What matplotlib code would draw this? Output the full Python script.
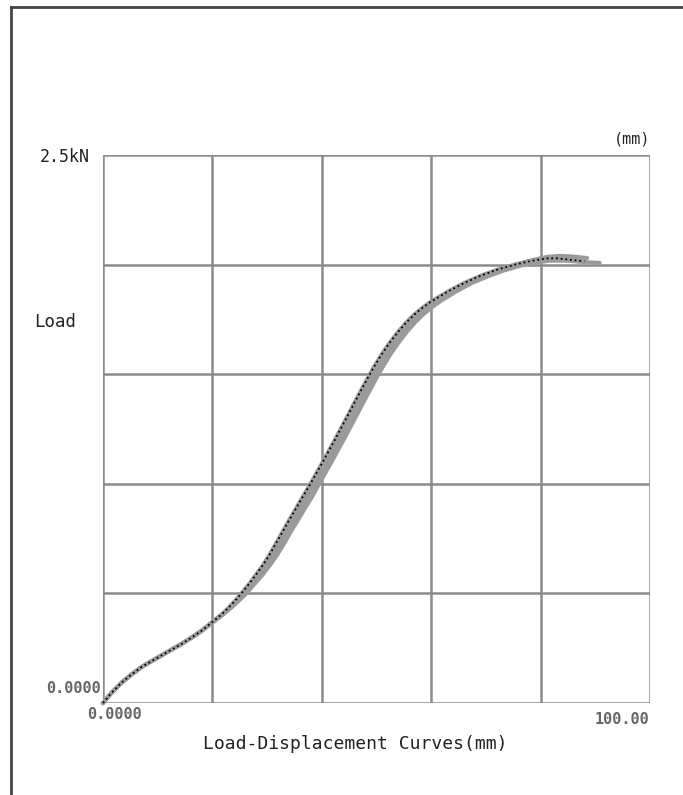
"""
Load-displacement curves, re-drawn from a scanned test report figure.
Several specimens overlap; one is drawn dotted black, the rest grey.
"""

import matplotlib
matplotlib.use("Agg")
import matplotlib.pyplot as plt
from matplotlib.lines import Line2D

# displacement (mm) / load (kN)
DISP_1 = [0, 1.5, 3.4, 5.2, 7.1, 9.5, 12.0, 14.2, 16.3, 18.2,
          20.0, 21.6, 23.0, 24.2, 25.2, 26.6, 27.9, 29.2, 30.4, 31.6,
          32.8, 34.0, 35.3, 36.5, 37.7, 40.0, 42.2, 44.4, 46.5, 48.6,
          49.7, 50.8, 52.3, 53.9, 55.4, 56.9, 58.4, 60.0, 63.1, 66.1,
          69.2, 72.2, 75.3, 78.3, 81.0, 83.0, 85.5, 88.0]
LOAD_1 = [0, 0.045, 0.093, 0.130, 0.165, 0.200, 0.236, 0.267, 0.300, 0.333,
          0.370, 0.402, 0.436, 0.468, 0.497, 0.540, 0.583, 0.628, 0.674, 0.727,
          0.780, 0.833, 0.888, 0.940, 0.990, 1.092, 1.192, 1.295, 1.395, 1.492,
          1.540, 1.585, 1.640, 1.692, 1.735, 1.772, 1.803, 1.832, 1.878, 1.917,
          1.951, 1.978, 2.000, 2.017, 2.028, 2.029, 2.022, 2.015]

DISP_2 = [0, 1.5, 3.4, 5.2, 7.1, 9.5, 12.0, 14.2, 16.3, 18.2,
          20.0, 21.7, 23.2, 24.5, 25.6, 27.1, 28.5, 29.9, 31.1, 32.4,
          33.6, 34.9, 36.2, 37.4, 38.6, 40.9, 43.1, 45.3, 47.4, 49.5,
          50.6, 51.7, 53.2, 54.8, 56.3, 57.8, 59.3, 60.9, 63.9, 66.9,
          69.9, 72.8, 75.8, 78.7, 81.3, 83.5, 86.0, 88.5]
LOAD_2 = [0, 0.045, 0.093, 0.130, 0.165, 0.200, 0.236, 0.267, 0.300, 0.333,
          0.370, 0.402, 0.436, 0.468, 0.497, 0.540, 0.583, 0.628, 0.674, 0.727,
          0.780, 0.833, 0.888, 0.940, 0.990, 1.092, 1.192, 1.295, 1.395, 1.492,
          1.540, 1.585, 1.640, 1.692, 1.735, 1.772, 1.803, 1.832, 1.878, 1.917,
          1.951, 1.978, 2.002, 2.022, 2.036, 2.040, 2.037, 2.030]

DISP_3 = [0, 1.5, 3.4, 5.2, 7.1, 9.5, 12.0, 14.2, 16.3, 18.3,
          20.2, 21.9, 23.5, 24.9, 26.1, 27.6, 29.1, 30.5, 31.8, 33.1,
          34.3, 35.6, 36.9, 38.2, 39.3, 41.6, 43.8, 46.0, 48.1, 50.2,
          51.3, 52.4, 53.9, 55.5, 57.0, 58.5, 60.0, 61.6, 64.6, 67.5,
          70.5, 73.4, 76.3, 79.2, 81.8, 84.5, 87.7, 90.8]
LOAD_3 = [0, 0.045, 0.093, 0.130, 0.165, 0.200, 0.236, 0.267, 0.300, 0.333,
          0.370, 0.402, 0.436, 0.468, 0.497, 0.540, 0.583, 0.628, 0.674, 0.727,
          0.780, 0.833, 0.888, 0.940, 0.990, 1.092, 1.192, 1.295, 1.395, 1.492,
          1.540, 1.585, 1.640, 1.692, 1.735, 1.772, 1.803, 1.832, 1.878, 1.917,
          1.948, 1.974, 1.995, 2.010, 2.018, 2.018, 2.012, 2.008]

DISP_4 = [0, 1.5, 3.4, 5.2, 7.1, 9.5, 12.0, 14.2, 16.3, 18.2,
          20.1, 21.7, 23.2, 24.4, 25.5, 26.9, 28.2, 29.6, 30.8, 32.0,
          33.2, 34.4, 35.7, 36.9, 38.1, 40.4, 42.6, 44.8, 46.9, 49.0,
          50.1, 51.2, 52.7, 54.3, 55.8, 57.3, 58.8, 60.4, 63.5, 66.5,
          69.6, 72.5, 75.6, 78.6, 81.2, 83.3, 85.4, 87.0]
LOAD_4 = [0, 0.045, 0.093, 0.130, 0.165, 0.200, 0.236, 0.267, 0.300, 0.333,
          0.370, 0.402, 0.436, 0.468, 0.497, 0.540, 0.583, 0.628, 0.674, 0.727,
          0.780, 0.833, 0.888, 0.940, 0.990, 1.092, 1.192, 1.295, 1.395, 1.492,
          1.540, 1.585, 1.640, 1.692, 1.735, 1.772, 1.803, 1.832, 1.878, 1.917,
          1.951, 1.978, 2.001, 2.019, 2.032, 2.034, 2.030, 2.026]

X_MAX = 100.0
Y_MAX = 2.5
GRID_X = [0, 20, 40, 60, 80, 100]
GRID_Y = [0, 0.5, 1.0, 1.5, 2.0, 2.5]

GRID_COLOR = "#8c8c8c"
BAND_COLOR = "#9a9a9a"
FONT = "DejaVu Sans Mono"


def main():
    fig = plt.figure(figsize=(6.83, 7.95), dpi=100)
    fig.patch.set_facecolor("white")

    # outer frame of the scanned page (left and top edges only)
    fig.add_artist(Line2D([0.016, 0.016], [0.0, 0.991], transform=fig.transFigure,
                          color="#444444", linewidth=2.0))
    fig.add_artist(Line2D([0.016, 1.0], [0.991, 0.991], transform=fig.transFigure,
                          color="#444444", linewidth=2.0))

    ax = fig.add_axes([0.1508, 0.1157, 0.8009, 0.6893])
    ax.set_xlim(0, X_MAX)
    ax.set_ylim(0, Y_MAX)

    for gx in GRID_X:
        ax.axvline(gx, color=GRID_COLOR, linewidth=1.8, zorder=1)
    for gy in GRID_Y:
        ax.axhline(gy, color=GRID_COLOR, linewidth=1.8, zorder=1)
    for s in ax.spines.values():
        s.set_visible(False)
    ax.set_xticks([])
    ax.set_yticks([])

    # grey specimens
    for xs, ys in [(DISP_3, LOAD_3), (DISP_2, LOAD_2), (DISP_4, LOAD_4)]:
        ax.plot(xs, ys, color=BAND_COLOR, linewidth=2.9, solid_capstyle="round",
                solid_joinstyle="round", zorder=3, clip_on=False)
    # dotted black specimen on top
    ax.plot(DISP_1, LOAD_1, color=BAND_COLOR, linewidth=2.9, zorder=4,
            solid_joinstyle="round", clip_on=False)
    ax.plot(DISP_1, LOAD_1, color="black", linewidth=1.3, linestyle=(0, (1, 1.6)),
            zorder=5, clip_on=False)

    # labels placed like the original print-out
    fig.text(0.132, 0.803, "2.5kN", fontsize=12, family=FONT, ha="right",
             va="center", color="#222222")
    fig.text(0.050, 0.595, "Load", fontsize=12.5, family=FONT, ha="left",
             va="center", color="#222222")
    fig.text(0.952, 0.825, "(mm)", fontsize=11, family=FONT, ha="right",
             va="center", color="#222222")
    fig.text(0.147, 0.134, "0.0000", fontsize=11, family=FONT, ha="right",
             va="center", color="#666666", fontweight="bold")
    fig.text(0.128, 0.101, "0.0000", fontsize=11, family=FONT, ha="left",
             va="center", color="#666666", fontweight="bold")
    fig.text(0.951, 0.095, "100.00", fontsize=11, family=FONT, ha="right",
             va="center", color="#666666", fontweight="bold")
    fig.text(0.5205, 0.064, "Load-Displacement Curves(mm)", fontsize=13,
             family=FONT, ha="center", va="center", color="#222222")

    fig.savefig("out.png", dpi=100)
    plt.close(fig)


if __name__ == "__main__":
    main()
